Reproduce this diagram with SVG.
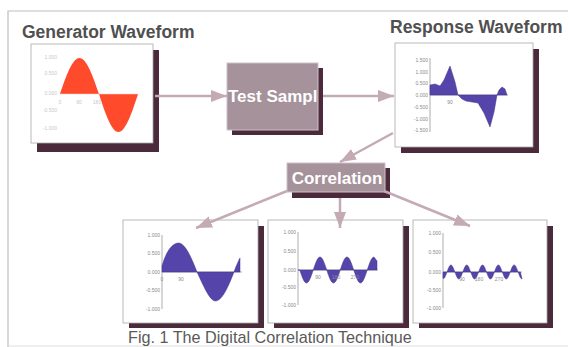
<svg xmlns="http://www.w3.org/2000/svg" width="569" height="347" viewBox="0 0 569 347">
<defs>
<style>
.title{font-family:"Liberation Sans",Arial,sans-serif;font-weight:bold;font-size:17.5px;fill:#505050}
.cap{font-family:"Liberation Sans",Arial,sans-serif;font-size:16.2px;fill:#5a5a5a}
.btxt{font-family:"Liberation Sans",Arial,sans-serif;font-weight:bold;font-size:17px;fill:#ffffff}
.lbl{font-family:"Liberation Sans",Arial,sans-serif;font-size:5px;fill:#8a8a8a}
.glbl{font-family:"Liberation Sans",Arial,sans-serif;font-size:5px;fill:#c8c8c8}
.shadow{fill:#4b2a3c}
.chart{fill:#ffffff;stroke:#a8a8a8;stroke-width:0.8}
.proc{fill:#a6929b;stroke:#cfc0c7;stroke-width:1}
.axis{stroke:#8a8a8a;stroke-width:0.7;fill:none}
.wave{fill:#5544aa;stroke:#40338a;stroke-width:0.5}
.conn{stroke:#c4aab5;stroke-width:2.5;fill:none;marker-end:url(#ah)}
</style>
<marker id="ah" markerUnits="userSpaceOnUse" markerWidth="18" markerHeight="12" refX="16" refY="6" orient="auto">
<path d="M0,0 L16,6 L0,12 Z" fill="#c4aab5"/>
</marker>
<clipPath id="tsclip"><rect x="227" y="63" width="91" height="67"/></clipPath>
</defs>
<rect width="569" height="347" fill="#ffffff"/>
<path d="M8,347 V11 H568" fill="none" stroke="#bdbdbd" stroke-width="1.2"/>
<line x1="8" y1="346" x2="568" y2="346" stroke="#dddddd" stroke-width="1"/>

<g id="generator">
<text class="title" x="22" y="38">Generator Waveform</text>
<rect class="shadow" x="37" y="50" width="122" height="102"/>
<rect class="chart" x="31" y="44" width="122" height="99"/>
<path d="M60,94 C66.36,75.56 72.44,58 79.5,58 C86.56,58 92.64,75.56 99,94 C105.36,113.47 111.44,132 118.5,132 C125.56,132 131.64,113.47 138,94 Z" fill="#ff4a2c"/>
<line x1="60" y1="94" x2="138" y2="94" stroke="#ffd0c0" stroke-width="0.5"/>
<g class="glbl" text-anchor="end">
<text x="57" y="59">1.000</text><text x="57" y="75">0.500</text><text x="57" y="95">0.000</text><text x="57" y="112">-0.500</text><text x="57" y="130">-1.000</text>
</g>
<g class="glbl" text-anchor="middle">
<text x="60" y="104">0</text><text x="79" y="104">90</text><text x="97" y="104">180</text>
</g>
</g>

<g id="test-sample">
<rect class="shadow" x="232" y="68" width="91" height="67"/>
<rect class="proc" x="227" y="63" width="91" height="67"/>
<text class="btxt" x="228" y="102" clip-path="url(#tsclip)">Test Sample</text>
</g>

<g id="response">
<text class="title" x="390" y="33">Response Waveform</text>
<rect class="shadow" x="401" y="49" width="138" height="104"/>
<rect class="chart" x="395" y="43" width="138" height="104"/>
<line class="axis" x1="430" y1="58" x2="430" y2="132"/>
<line class="axis" x1="430" y1="95" x2="508" y2="95"/>
<path class="wave" stroke-linejoin="round" d="M430,95 L430,85 L435,84 L440,86 L444,80 L450,66 L455,82 L458,95 L462,99 L466,101 L472,102 L478,103 L484,113 L490,127 L494,112 L497,95 L499,90 L502,87 L505,89 L507,95 Z"/>
<g class="lbl" text-anchor="end">
<text x="428" y="62">1.500</text><text x="428" y="74">1.000</text><text x="428" y="85">0.500</text><text x="428" y="97">0.000</text><text x="428" y="109">-0.500</text><text x="428" y="121">-1.000</text><text x="428" y="132">-1.500</text>
</g>
<text class="lbl" x="450" y="104" text-anchor="middle">90</text>
</g>

<g id="correlation">
<rect class="shadow" x="292" y="168" width="98" height="30"/>
<rect class="proc" x="287" y="163" width="98" height="29"/>
<text class="btxt" x="337" y="184" text-anchor="middle" font-size="16.5">Correlation</text>
</g>

<g id="result-1">
<rect class="shadow" x="129" y="226" width="135" height="102"/>
<rect class="chart" x="123" y="220" width="135" height="103"/>
<line class="axis" x1="162" y1="235" x2="162" y2="309"/>
<line class="axis" x1="162" y1="272" x2="242" y2="272"/>
<path class="wave" d="M162,272 L162,266 C166,252 172,243 178.5,243 C185.2,243 191.5,257.9 197,272 C203.7,286.1 209.7,301 215.5,301 C222.2,301 228.5,286.1 234,272 C236,266 238,262 240,258 L240,272 Z"/>
<g class="lbl" text-anchor="end">
<text x="160" y="237">1.000</text><text x="160" y="255">0.500</text><text x="160" y="274">0.000</text><text x="160" y="292">-0.500</text><text x="160" y="311">-1.000</text>
</g>
<g class="lbl" text-anchor="middle"><text x="162" y="281">0</text><text x="181" y="281">90</text></g>
</g>

<g id="result-2">
<rect class="shadow" x="274" y="226" width="135" height="102"/>
<rect class="chart" x="268" y="220" width="135" height="103"/>
<line class="axis" x1="298" y1="232" x2="298" y2="305"/>
<line class="axis" x1="298" y1="270" x2="378" y2="270"/>
<path class="wave" d="M298,270 L299.75,270 c2.2,6.66 4.31,13 6.75,13 s4.55,-6.34 6.75,-13 s4.31,-13 6.75,-13 s4.55,6.34 6.75,13 s4.31,13 6.75,13 s4.55,-6.34 6.75,-13 s4.31,-13 6.75,-13 s4.55,6.34 6.75,13 s4.31,13 6.75,13 s4.55,-6.34 6.75,-13 s4.31,-13 6.75,-13 L377,261 L377,270 Z"/>
<g class="lbl" text-anchor="end">
<text x="296" y="234">1.000</text><text x="296" y="253">0.500</text><text x="296" y="272">0.000</text><text x="296" y="289">-0.500</text><text x="296" y="307">-1.000</text>
</g>
<g class="lbl" text-anchor="middle"><text x="318" y="279">90</text><text x="336" y="279">180</text><text x="355" y="279">270</text></g>
</g>

<g id="result-3">
<rect class="shadow" x="419" y="226" width="134" height="102"/>
<rect class="chart" x="413" y="220" width="134" height="103"/>
<line class="axis" x1="443" y1="233" x2="443" y2="308"/>
<line class="axis" x1="443" y1="272" x2="522" y2="272"/>
<path class="wave" d="M443,272 L443,278 L443.5,278.6 c1.2,0 2.2,-3.2 3.5,-6.6 s2.52,-7 3.95,-7 s2.66,3.41 3.95,7 s2.52,7 3.950,7 s2.66,-3.41 3.95,-7 s2.52,-7 3.95,-7 s2.66,3.41 3.95,7 s2.52,7 3.95,7 s2.66,-3.41 3.95,-7 s2.52,-7 3.95,-7 s2.66,3.41 3.95,7 s2.52,7 3.95,7 s2.66,-3.41 3.95,-7 s2.52,-7 3.95,-7 s2.66,3.41 3.95,7 s2.52,7 3.95,7 s2.66,-3.41 3.95,-7 s2.52,-7 3.95,-7 s2.66,3.41 3.95,7 s2.52,7 3.95,7 L520.4,272 Z"/>
<g class="lbl" text-anchor="end">
<text x="441" y="235">1.000</text><text x="441" y="254">0.500</text><text x="441" y="274">0.000</text><text x="441" y="292">-0.500</text><text x="441" y="310">-1.000</text>
</g>
<g class="lbl" text-anchor="middle"><text x="462" y="281">90</text><text x="479" y="281">180</text><text x="499" y="281">270</text></g>
</g>

<g id="connectors">
<line class="conn" x1="155" y1="96" x2="227" y2="96"/>
<line class="conn" x1="323" y1="96" x2="394" y2="96"/>
<line class="conn" x1="393" y1="133" x2="340" y2="162"/>
<line class="conn" x1="287" y1="191" x2="196" y2="228"/>
<line class="conn" x1="340" y1="198" x2="340" y2="228"/>
<line class="conn" x1="384" y1="191" x2="470" y2="226"/>
</g>

<text class="cap" x="128" y="343">Fig. 1 The Digital Correlation Technique</text>
</svg>
